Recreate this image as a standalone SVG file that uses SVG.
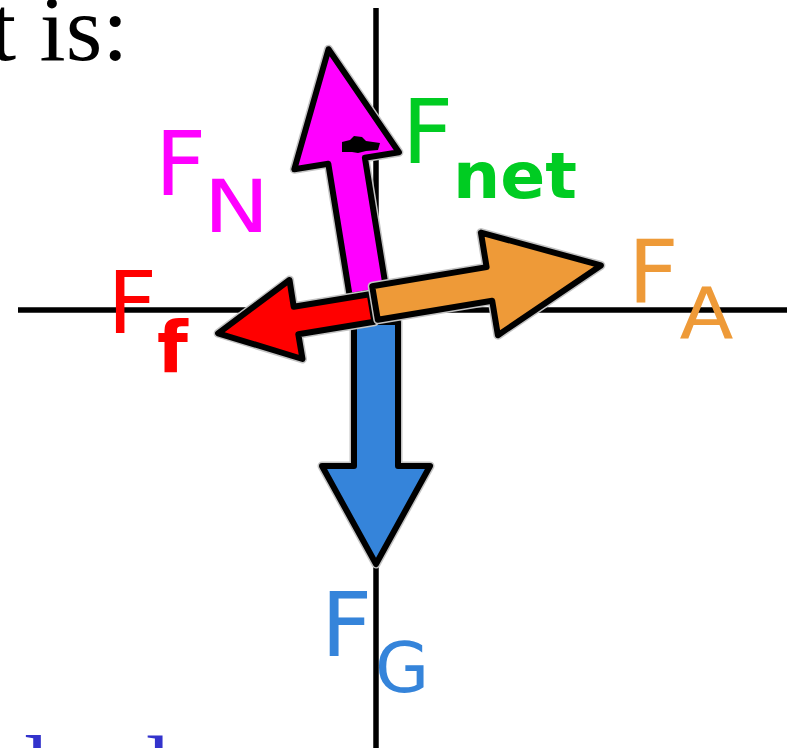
<svg xmlns="http://www.w3.org/2000/svg" width="787" height="748" viewBox="0 0 787 748">
  <style>
    .axis { stroke: #000; stroke-width: 5.5; fill: none; }
    .arrow { stroke: #000; stroke-width: 6; stroke-linejoin: round; }
    .halo { fill: none; stroke: #c4c4c4; stroke-width: 9; stroke-linejoin: round; }
    .lbl { font-family: "DejaVu Sans", "Liberation Sans", sans-serif; }
    .sub { font-family: "DejaVu Sans", "Liberation Sans", sans-serif; }
    .bold { font-weight: bold; }
    .serif { font-family: "Liberation Serif", "Times New Roman", serif; font-size: 94px; }
  </style>
  <rect width="787" height="748" fill="#fff"/>

  <g id="page-text">
    <text class="serif" x="-10" y="60" fill="#000">t is:</text>
    <text class="serif" x="24" y="800" fill="#3333cc">l</text>
    <text class="serif" x="122" y="800" fill="#3333cc">d</text>
  </g>

  <g id="axes">
    <line class="axis" x1="376" y1="8" x2="376" y2="748"/>
    <line class="axis" x1="18" y1="310" x2="787" y2="310"/>
  </g>

  <g id="connectors">
    <g id="F_G">
      <polygon class="halo" points="354,322 354,466 322,466 376,564 430,466 398,466 398,322"/>
      <polygon class="arrow" fill="#3584da" points="354,322 354,466 322,466 376,564 430,466 398,466 398,322"/>
    </g>
    <g id="F_N">
      <polygon class="halo" points="349.7,296 328.3,163.7 294.3,169.2 328.5,49.2 398.9,152.2 364.9,157.7 386.3,290"/>
      <polygon class="arrow" fill="#ff00ff" points="349.7,296 328.3,163.7 294.3,169.2 328.5,49.2 398.9,152.2 364.9,157.7 386.3,290"/>
      <polygon fill="#000" points="342,142 350,140 354,136 362,137 366,141 380,143 378,150 366,151 358,153 352,152 342,152"/>
    </g>
    <g id="F_f">
      <polygon class="halo" points="369.7,294.2 293.7,306.7 289.5,280 218.1,333.3 302.5,359 298.3,334.3 374.3,321.8"/>
      <polygon class="arrow" fill="#ff0000" points="369.7,294.2 293.7,306.7 289.5,280 218.1,333.3 302.5,359 298.3,334.3 374.3,321.8"/>
    </g>
    <g id="F_A">
      <polygon class="halo" points="372.2,286.2 486.6,267.1 480.9,232.6 600.9,265.4 497.9,335.2 492.2,300.7 377.8,319.8"/>
      <polygon class="arrow" fill="#ee9a38" points="372.2,286.2 486.6,267.1 480.9,232.6 600.9,265.4 497.9,335.2 492.2,300.7 377.8,319.8"/>
    </g>
  </g>

  <g id="labels">
    <g id="label-FN" fill="#ff00ff">
      <text class="lbl" x="155" y="195" font-size="89">F</text>
      <text class="sub" x="203.4" y="232" font-size="73" textLength="66" lengthAdjust="spacingAndGlyphs">N</text>
    </g>
    <g id="label-Fnet" fill="#00cc22">
      <text class="lbl" x="402" y="163" font-size="89">F</text>
      <text class="sub bold" x="453" y="198" font-size="64" textLength="124" lengthAdjust="spacingAndGlyphs">net</text>
    </g>
    <g id="label-Ff" fill="#ff0000">
      <text class="lbl" x="107.5" y="333" font-size="86">F</text>
      <text class="sub bold" x="157" y="372" font-size="71">f</text>
    </g>
    <g id="label-FA" fill="#ee9a38">
      <text class="lbl" x="628" y="302" font-size="88">F</text>
      <text class="sub" x="679.4" y="338" font-size="71" textLength="54" lengthAdjust="spacingAndGlyphs">A</text>
    </g>
    <g id="label-FG" fill="#3584da">
      <text class="lbl" x="321" y="656" font-size="89">F</text>
      <text class="sub" x="375" y="692" font-size="70">G</text>
    </g>
  </g>
</svg>
